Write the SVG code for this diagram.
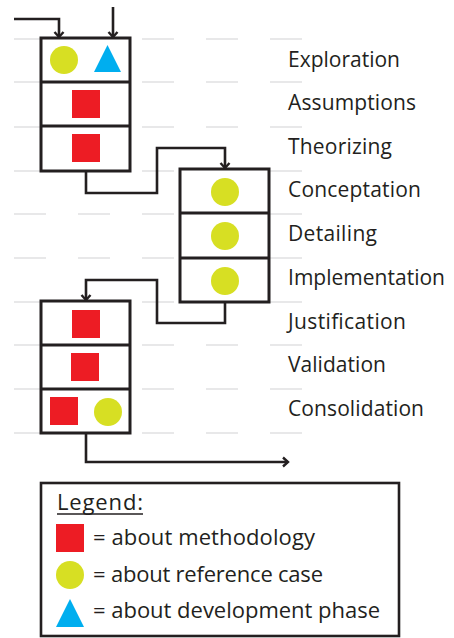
<svg xmlns="http://www.w3.org/2000/svg" width="454" height="638" viewBox="0 0 454 638">
  <style>
    .grid { stroke: #e8e8e9; stroke-width: 2.2; stroke-dasharray: 32 32; fill: none; }
    .box { fill: #ffffff; stroke: #231f20; stroke-width: 3; }
    .div { stroke: #231f20; stroke-width: 3; }
    .sq { fill: #ed1c24; }
    .ci { fill: #d7df23; }
    .tr { fill: #00aeef; }
    .wire { fill: none; stroke: #231f20; stroke-width: 2.6; }
    .lbl { font-family: "Open Sans", "Liberation Sans", sans-serif; font-size: 21px; fill: #231f20; }
    .leg { font-family: "Open Sans", "Liberation Sans", sans-serif; font-size: 22px; fill: #231f20; }
  </style>
  <defs>
    <marker id="arrow" markerWidth="12" markerHeight="12" refX="9" refY="6" orient="auto" markerUnits="userSpaceOnUse">
      <path d="M4,1.5 L9,6 L4,10.5" fill="none" stroke="#231f20" stroke-width="2.4"/>
    </marker>
  </defs>

  <rect width="454" height="638" fill="#ffffff"/>

  <!-- dashed phase guides -->
  <g id="guides">
    <line class="grid" x1="14" y1="39" x2="310" y2="39"/>
    <line class="grid" x1="14" y1="82" x2="310" y2="82"/>
    <line class="grid" x1="14" y1="127" x2="310" y2="127"/>
    <line class="grid" x1="14" y1="171" x2="310" y2="171"/>
    <line class="grid" x1="14" y1="214" x2="310" y2="214"/>
    <line class="grid" x1="14" y1="258" x2="310" y2="258"/>
    <line class="grid" x1="14" y1="302" x2="310" y2="302"/>
    <line class="grid" x1="14" y1="345" x2="310" y2="345"/>
    <line class="grid" x1="14" y1="389" x2="310" y2="389"/>
    <line class="grid" x1="14" y1="433" x2="310" y2="433"/>
  </g>

  <!-- phase labels -->
  <g id="labels">
    <text class="lbl" x="288" y="67" textLength="112" lengthAdjust="spacing">Exploration</text>
    <text class="lbl" x="288" y="110" textLength="128" lengthAdjust="spacing">Assumptions</text>
    <text class="lbl" x="288" y="154" textLength="104" lengthAdjust="spacing">Theorizing</text>
    <text class="lbl" x="288" y="197" textLength="133" lengthAdjust="spacing">Conceptation</text>
    <text class="lbl" x="288" y="241" textLength="89" lengthAdjust="spacing">Detailing</text>
    <text class="lbl" x="288" y="285" textLength="157" lengthAdjust="spacing">Implementation</text>
    <text class="lbl" x="288" y="329" textLength="118" lengthAdjust="spacing">Justification</text>
    <text class="lbl" x="288" y="372" textLength="98" lengthAdjust="spacing">Validation</text>
    <text class="lbl" x="288" y="416" textLength="136" lengthAdjust="spacing">Consolidation</text>
  </g>

  <!-- connectors -->
  <g id="connectors">
    <polyline class="wire" points="14,19 59,19 59,37" marker-end="url(#arrow)"/>
    <polyline class="wire" points="113,7 113,37" marker-end="url(#arrow)"/>
    <polyline class="wire" points="86,171 86,193 157,193 157,148 225,148 225,168" marker-end="url(#arrow)"/>
    <polyline class="wire" points="225,302 225,323 157,323 157,280 86,280 86,300" marker-end="url(#arrow)"/>
    <polyline class="wire" points="86,433 86,462 288,462" marker-end="url(#arrow)"/>
  </g>

  <!-- block 1: Exploration / Assumptions / Theorizing -->
  <g id="block1">
    <rect class="box" x="41" y="38" width="89" height="133"/>
    <line class="div" x1="41" y1="82" x2="130" y2="82"/>
    <line class="div" x1="41" y1="126" x2="130" y2="126"/>
    <circle class="ci" cx="64" cy="60" r="14"/>
    <polygon class="tr" points="107.5,45 121,72 94,72"/>
    <rect class="sq" x="72" y="90" width="28" height="28"/>
    <rect class="sq" x="72" y="134" width="28" height="28"/>
  </g>

  <!-- block 2: Conceptation / Detailing / Implementation -->
  <g id="block2">
    <rect class="box" x="180" y="169" width="89" height="133"/>
    <line class="div" x1="180" y1="213" x2="269" y2="213"/>
    <line class="div" x1="180" y1="258" x2="269" y2="258"/>
    <circle class="ci" cx="225" cy="192" r="14"/>
    <circle class="ci" cx="225" cy="236" r="14"/>
    <circle class="ci" cx="225" cy="281" r="14"/>
  </g>

  <!-- block 3: Justification / Validation / Consolidation -->
  <g id="block3">
    <rect class="box" x="41" y="301" width="89" height="132"/>
    <line class="div" x1="41" y1="345" x2="130" y2="345"/>
    <line class="div" x1="41" y1="389" x2="130" y2="389"/>
    <rect class="sq" x="72" y="310" width="28" height="28"/>
    <rect class="sq" x="71" y="353" width="28" height="28"/>
    <rect class="sq" x="50" y="397" width="28" height="28"/>
    <circle class="ci" cx="108" cy="412" r="14"/>
  </g>

  <!-- legend -->
  <g id="legend">
    <rect x="41" y="483" width="358" height="153" fill="#ffffff" stroke="#231f20" stroke-width="2.6"/>
    <text class="leg" x="57" y="510" textLength="86" lengthAdjust="spacing">Legend:</text>
    <line x1="57" y1="514" x2="143" y2="514" stroke="#231f20" stroke-width="1.4"/>
    <rect class="sq" x="56" y="524" width="28" height="28"/>
    <text class="leg" x="93" y="545" textLength="222" lengthAdjust="spacing">= about methodology</text>
    <circle class="ci" cx="70" cy="575" r="14"/>
    <text class="leg" x="93" y="582" textLength="230" lengthAdjust="spacing">= about reference case</text>
    <polygon class="tr" points="70,599 84,627 56,627"/>
    <text class="leg" x="93" y="618" textLength="287" lengthAdjust="spacing">= about development phase</text>
  </g>
</svg>
